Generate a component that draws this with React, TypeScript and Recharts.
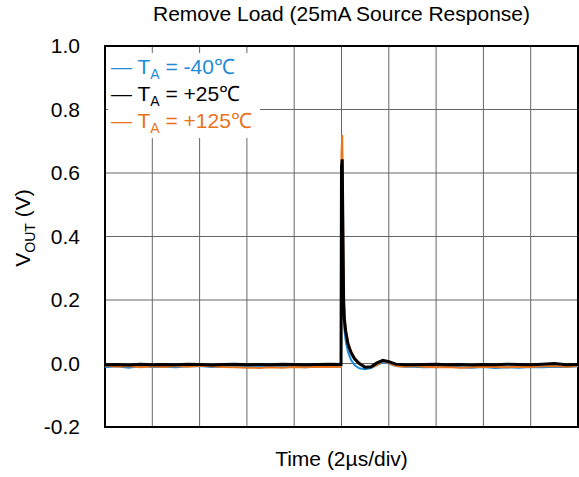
import React from "react"
import { LineChart, Line, XAxis, YAxis, CartesianGrid, ReferenceArea } from "recharts"

// time in µs (2 µs/div, 10 div)
const time = [
  0, 0.5, 1, 1.5, 2, 2.5, 3, 3.5, 4, 4.5, 5, 5.5, 6, 6.5, 7, 7.5, 8, 8.5, 9, 9.5,
  9.98, 10.0, 10.03, 10.06, 10.09, 10.12, 10.18, 10.28, 10.4, 10.55, 10.75, 11.0, 11.25, 11.5, 11.75, 12.0, 12.3, 12.7,
  13, 13.5, 14, 14.5, 15, 15.5, 16, 16.5, 17, 17.5, 18, 18.5, 19, 19.5, 20,
]

const vMinus40 = [
  -0.012, -0.009, -0.013, -0.008, -0.011, -0.01, -0.012, -0.009, -0.008, -0.011, -0.01, -0.009, -0.008, -0.01, -0.009, -0.011, -0.01, -0.012, -0.009, -0.01,
  -0.01, 0.6, 0.63, 0.38, 0.17, 0.11, 0.07, 0.035, 0.012, -0.005, -0.015, -0.018, -0.014, -0.005, 0.004, 0.0, -0.008, -0.01,
  -0.01, -0.012, -0.011, -0.009, -0.012, -0.013, -0.011, -0.014, -0.012, -0.013, -0.011, -0.012, -0.01, -0.011, -0.009,
]

const v25 = [
  -0.004, -0.003, -0.005, -0.002, -0.004, -0.003, -0.004, -0.002, -0.003, -0.005, -0.003, -0.002, -0.004, -0.003, -0.004, -0.002, -0.003, -0.004, -0.003, -0.002,
  -0.003, 0.62, 0.643, 0.42, 0.2, 0.14, 0.1, 0.06, 0.035, 0.015, 0.0, -0.012, -0.01, 0.002, 0.01, 0.006, -0.002, -0.004,
  -0.004, -0.003, -0.002, -0.004, -0.003, -0.005, -0.003, -0.004, -0.002, -0.003, -0.004, -0.002, 0.0, -0.004, -0.003,
]

const v125 = [
  -0.006, -0.01, -0.008, -0.012, -0.009, -0.011, -0.008, -0.01, -0.007, -0.009, -0.011, -0.012, -0.013, -0.014, -0.012, -0.013, -0.011, -0.012, -0.01, -0.011,
  -0.01, 0.66, 0.72, 0.5, 0.24, 0.16, 0.11, 0.065, 0.04, 0.018, 0.002, -0.01, -0.012, -0.004, 0.008, 0.002, -0.008, -0.01,
  -0.008, -0.01, -0.012, -0.011, -0.013, -0.012, -0.01, -0.011, -0.012, -0.01, -0.011, -0.009, -0.008, -0.01, -0.008,
]

const xTicks = [0, 2, 4, 6, 8, 10, 12, 14, 16, 18, 20]
const yTicks = [-0.2, 0, 0.2, 0.4, 0.6, 0.8, 1.0]

const series = [
  { key: "m40", temp: "-40℃", color: "#1f8ad6" },
  { key: "p25", temp: "+25℃", color: "#000000" },
  { key: "p125", temp: "+125℃", color: "#e8731a" },
]

const data = time.map((t, i) => ({ t, m40: vMinus40[i], p25: v25[i], p125: v125[i] }))

const FONT = "'Liberation Sans', Arial, sans-serif"

function LegendBox() {
  return (
    <div
      style={{
        position: "absolute",
        left: 108,
        top: 53,
        background: "#fff",
        padding: "0 8px 4px 3px",
        fontFamily: FONT,
        fontSize: 21,
      }}
    >
      {series.map((s) => (
        <div key={s.key} style={{ color: s.color, lineHeight: "27px", height: 27, whiteSpace: "nowrap" }}>
          {"— T"}
          <sub style={{ fontSize: 14, verticalAlign: "-5px" }}>A</sub>
          {" = " + s.temp}
        </div>
      ))}
    </div>
  )
}

function YLabel() {
  const cx = 30
  const cy = 228
  return (
    <text x={cx} y={cy} transform={`rotate(-90, ${cx}, ${cy})`} textAnchor="middle" fontFamily={FONT} fontSize={21} fill="#000">
      V
      <tspan dy={5} fontSize={14}>OUT</tspan>
      <tspan dy={-5}> (V)</tspan>
    </text>
  )
}

function XLabel(props: any) {
  const { viewBox } = props
  return (
    <text x={viewBox.x + viewBox.width / 2} y={466} textAnchor="middle" fontFamily={FONT} fontSize={21} fill="#000">
      Time (2µs/div)
    </text>
  )
}

export default function App() {
  return (
    <div style={{ position: "absolute", left: 0, top: 0, width: 579, height: 477, background: "#fff" }}>
      <div
        style={{
          position: "absolute",
          left: 105,
          width: 473,
          top: 2,
          textAlign: "center",
          fontFamily: FONT,
          fontSize: 21,
          color: "#000",
        }}
      >
        Remove Load (25mA Source Response)
      </div>
      <LineChart width={579} height={477} data={data} margin={{ top: 46, right: 1, left: 0, bottom: 0 }}>
        <CartesianGrid stroke="#666" strokeWidth={1} verticalValues={xTicks} horizontalValues={yTicks} />
        <XAxis
          dataKey="t"
          type="number"
          domain={[0, 20]}
          ticks={xTicks}
          tick={() => <g />}
          tickLine={false}
          axisLine={false}
          height={50}
          label={{ content: XLabel }}
        />
        <YAxis
          type="number"
          domain={[-0.2, 1.0]}
          ticks={yTicks}
          width={105}
          tickLine={false}
          axisLine={false}
          tickMargin={19}
          tick={{ fill: "#000", fontFamily: FONT, fontSize: 21 }}
          tickFormatter={(v: number) => v.toFixed(1)}
          label={{ content: YLabel }}
        />
        <Line dataKey="m40" stroke={series[0].color} strokeWidth={2} dot={false} isAnimationActive={false} />
        <Line dataKey="p125" stroke={series[2].color} strokeWidth={2} dot={false} isAnimationActive={false} />
        <Line dataKey="p25" stroke={series[1].color} strokeWidth={3} dot={false} isAnimationActive={false} />
        <ReferenceArea x1={0} x2={20} y1={-0.2} y2={1.0} fill="none" stroke="#000" strokeWidth={2} ifOverflow="visible" />
      </LineChart>
      <LegendBox />
    </div>
  )
}
